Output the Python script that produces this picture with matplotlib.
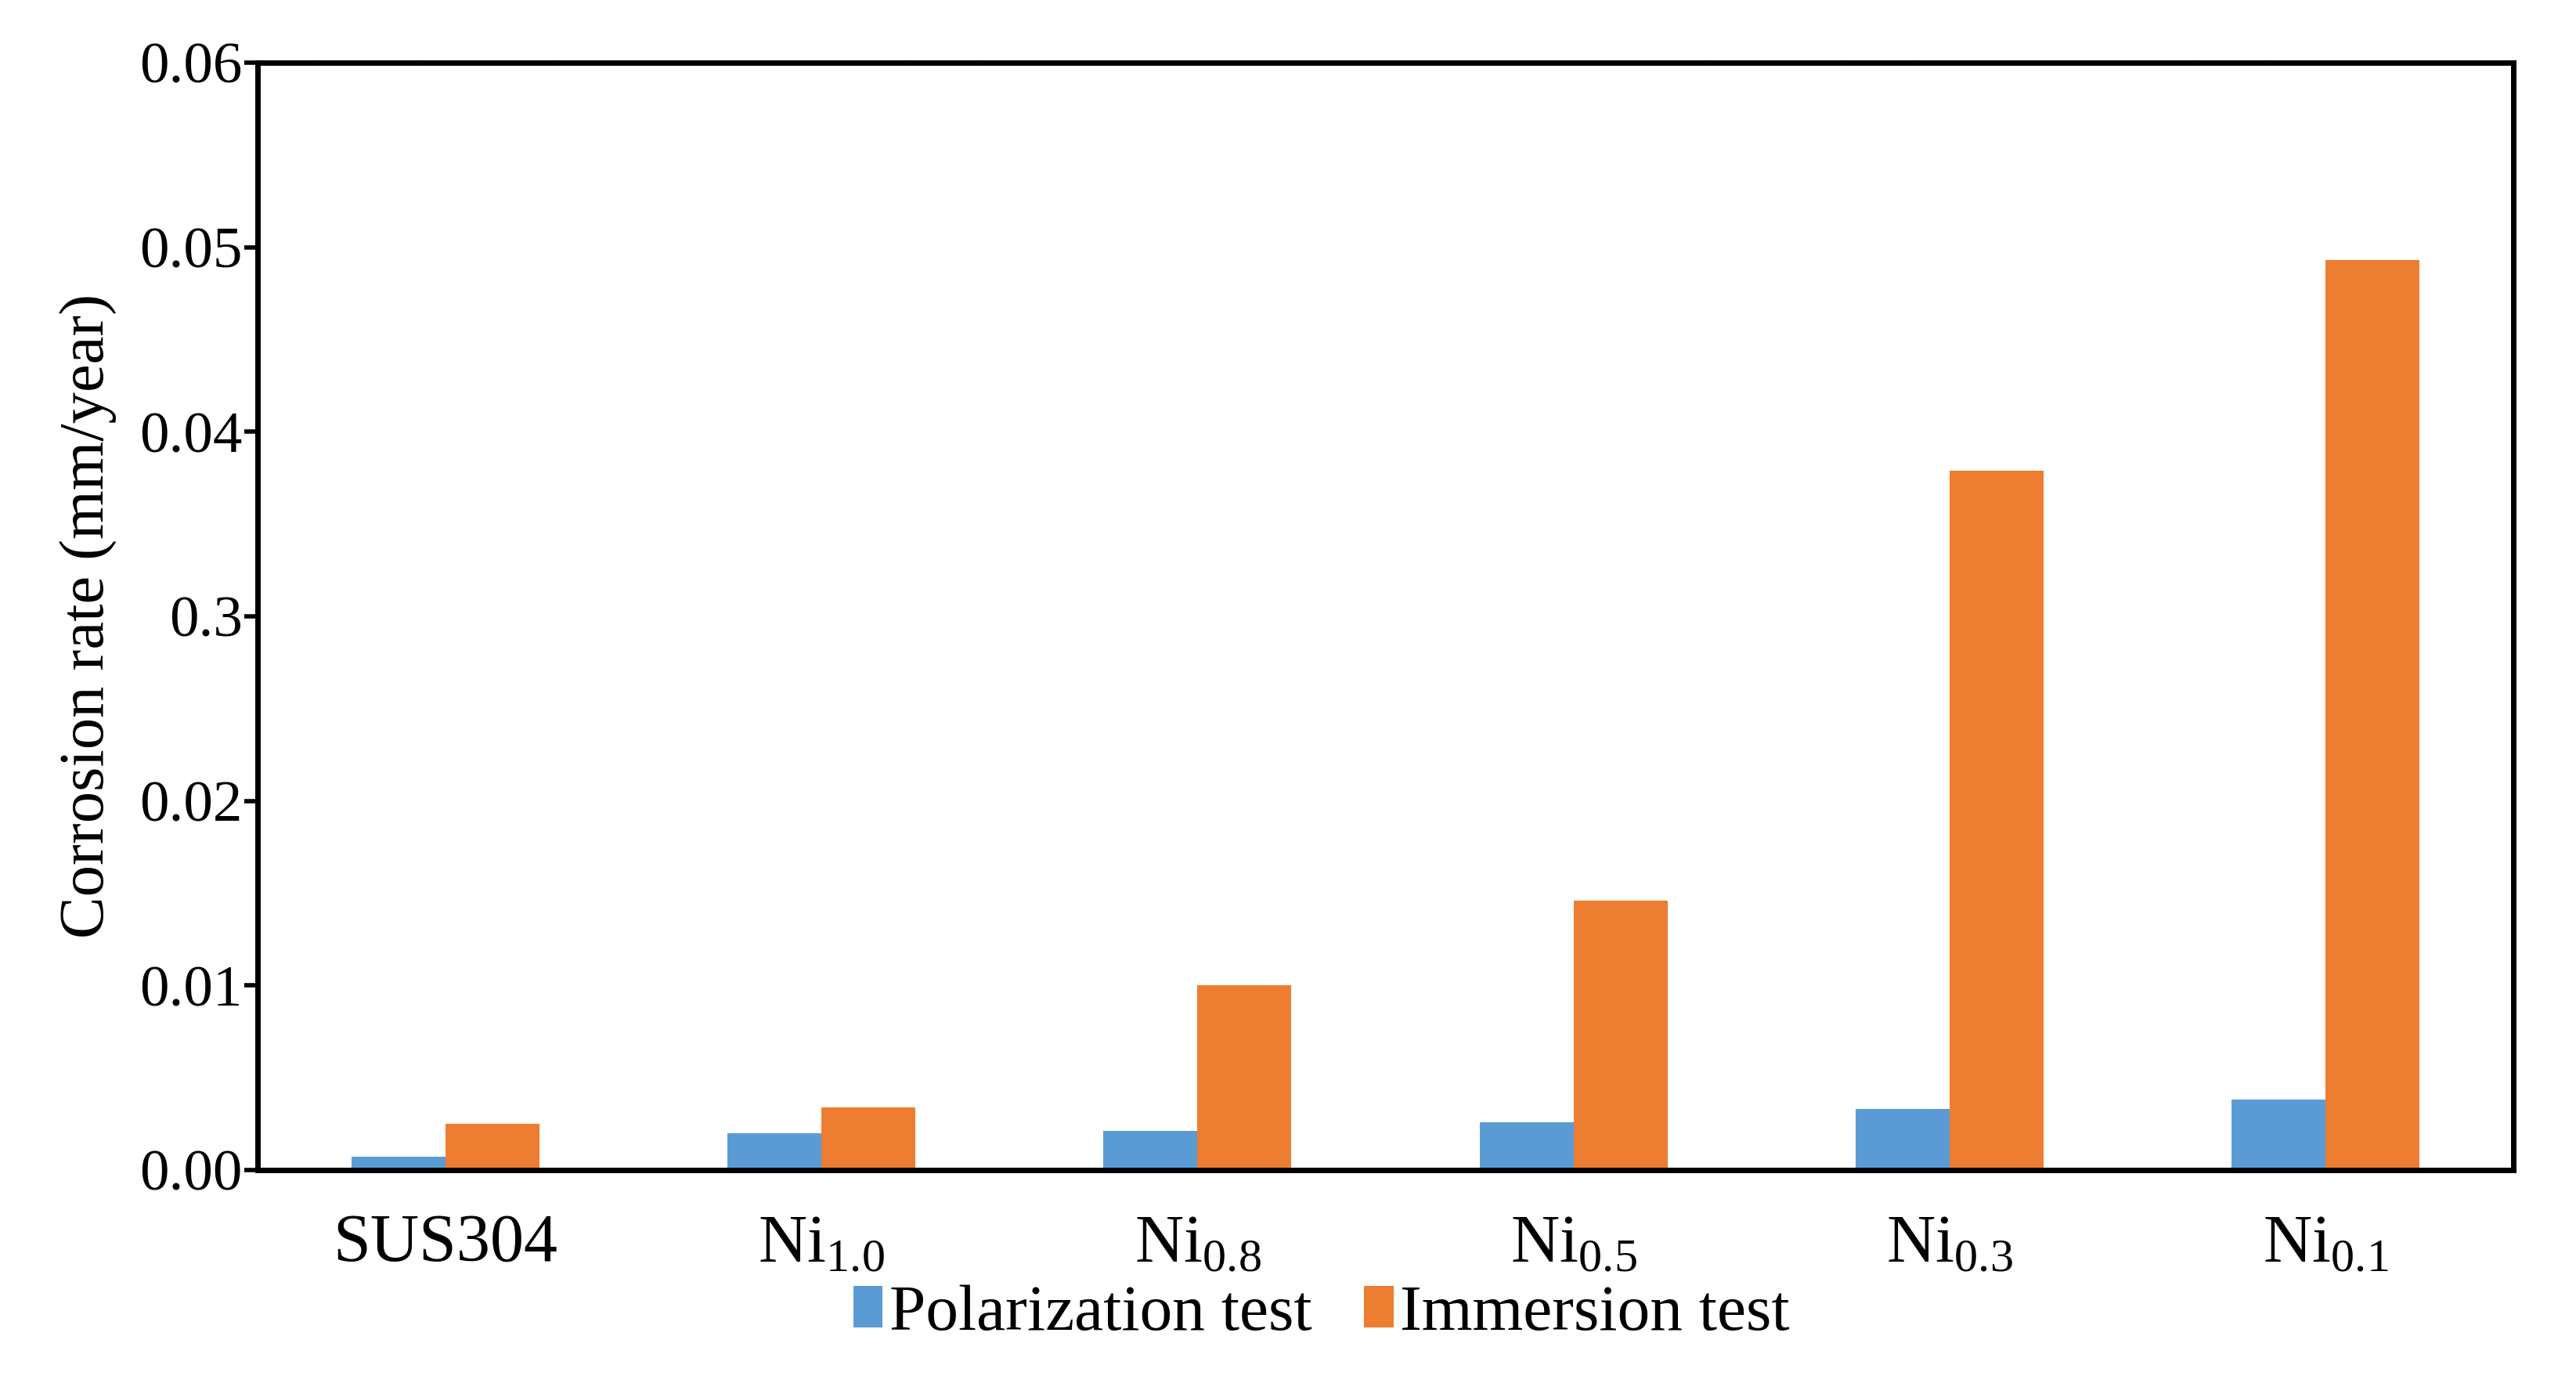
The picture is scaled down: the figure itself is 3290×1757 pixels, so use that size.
import matplotlib.pyplot as plt
import numpy as np

# data
samples = ["SUS304", r"$\mathregular{Ni_{1.0}}$", r"$\mathregular{Ni_{0.8}}$",
           r"$\mathregular{Ni_{0.5}}$", r"$\mathregular{Ni_{0.3}}$", r"$\mathregular{Ni_{0.1}}$"]
polarization = [0.0007, 0.0020, 0.0021, 0.0026, 0.0033, 0.0038]
immersion = [0.0025, 0.0034, 0.0100, 0.0146, 0.0379, 0.0493]
yticks = [0.0, 0.01, 0.02, 0.03, 0.04, 0.05, 0.06]
ytick_labels = ["0.00", "0.01", "0.02", "0.3", "0.04", "0.05", "0.06"]

plt.rcParams['font.family'] = ['Liberation Serif', 'DejaVu Serif']
plt.rcParams['mathtext.fontset'] = 'custom'
plt.rcParams['mathtext.rm'] = 'Liberation Serif'

fig = plt.figure(figsize=(16.45, 8.785), dpi=200)
ax = fig.add_axes([0.1, 0.1497, 0.8757, 0.8048])

x = np.arange(len(samples))
w = 0.25
ax.bar(x - w / 2, polarization, w, color='#5B9BD5', label='Polarization test')
ax.bar(x + w / 2, immersion, w, color='#ED7D31', label='Immersion test')

ax.set_xlim(-0.5, len(samples) - 0.5)
ax.set_ylim(0, 0.06)
ax.set_yticks(yticks)
ax.set_yticklabels(ytick_labels, fontsize=27)
ax.set_xticks(x)
ax.set_xticklabels(samples, fontsize=31)
ax.tick_params(axis='x', length=0, pad=20)
ax.tick_params(axis='y', direction='out', length=6, width=2, pad=1)
ax.set_ylabel("Corrosion rate (mm/year)", fontsize=29, labelpad=10)

for s in ax.spines.values():
    s.set_linewidth(2.5)
    s.set_linestyle((0, (1.4, 0.9)))
    s.set_color('black')

fig.legend(loc='center', bbox_to_anchor=(0.513, 0.045), ncol=2, frameon=False,
           fontsize=30, handlelength=0.45, handleheight=0.6, handletextpad=0.1,
           columnspacing=0.8)

fig.savefig("out.png", dpi=200)
